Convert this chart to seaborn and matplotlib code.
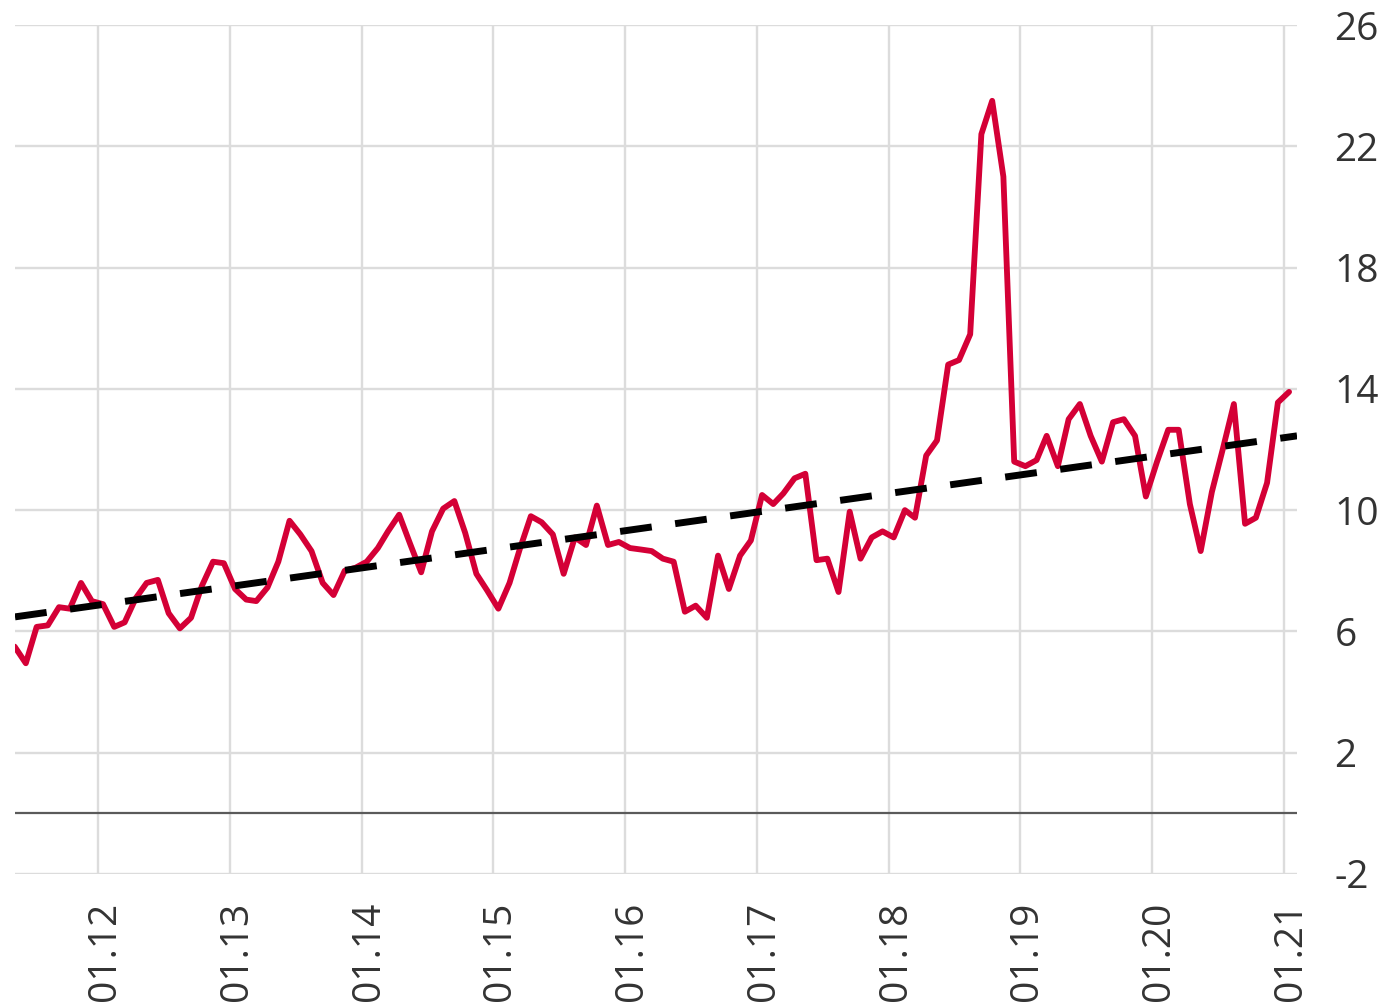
import matplotlib
matplotlib.use("Agg")
import matplotlib.pyplot as plt
import matplotlib.dates as mdates
import matplotlib.transforms as mtransforms
import numpy as np
import pandas as pd
import seaborn as sns

# ---- data ----
start_month = "2011-05-01"
values = [
    5.5, 4.95, 6.15, 6.2, 6.8, 6.75, 7.6, 7.0,                      # 2011 May-Dec
    6.9, 6.15, 6.3, 7.1, 7.6, 7.7, 6.6, 6.1, 6.45, 7.5, 8.3, 8.25,  # 2012
    7.4, 7.05, 7.0, 7.45, 8.3, 9.65, 9.2, 8.65, 7.6, 7.2, 8.0, 8.1, # 2013
    8.3, 8.75, 9.3, 9.85, 8.9, 7.95, 9.3, 10.05, 10.3, 9.25, 7.9, 7.35,  # 2014
    6.75, 7.6, 8.7, 9.8, 9.6, 9.2, 7.9, 9.1, 8.85, 10.15, 8.85, 8.95,    # 2015
    8.75, 8.7, 8.65, 8.4, 8.3, 6.65, 6.85, 6.45, 8.5, 7.4, 8.5, 9.0,     # 2016
    10.5, 10.2, 10.55, 11.05, 11.2, 8.35, 8.4, 7.3, 9.95, 8.4, 9.1, 9.3, # 2017
    9.1, 10.0, 9.75, 11.8, 12.3, 14.8, 14.95, 15.8, 22.4, 23.5, 21.0, 11.6,  # 2018
    11.45, 11.65, 12.45, 11.45, 13.0, 13.5, 12.45, 11.6, 12.9, 13.0, 12.45, 10.45,  # 2019
    11.6, 12.65, 12.65, 10.2, 8.65, 10.6, 12.0, 13.5, 9.55, 9.75, 10.9, 13.55,  # 2020
    13.9,                                                             # 2021 Jan
]
trend_dates = ["2011-05-16", "2021-02-06"]
trend_values = [6.48, 12.45]
year_ticks = ["2012-01-01", "2013-01-01", "2014-01-01", "2015-01-01", "2016-01-01",
              "2017-01-01", "2018-01-01", "2019-01-01", "2020-01-01", "2021-01-01"]
year_labels = ["01.12", "01.13", "01.14", "01.15", "01.16",
               "01.17", "01.18", "01.19", "01.20", "01.21"]
y_ticks = [-2, 2, 6, 10, 14, 18, 22, 26]

dates = pd.date_range(start_month, periods=len(values), freq="MS") + pd.Timedelta(days=14)
df = pd.DataFrame({"date": dates, "value": values})
trend_df = pd.DataFrame({"date": pd.to_datetime(trend_dates), "value": trend_values})

# ---- style ----
sns.set_theme(style="white")
plt.rcParams["font.family"] = ["Open Sans", "DejaVu Sans"]

fig = plt.figure(figsize=(13.84, 10.06), dpi=100)
ax = fig.add_axes([15 / 1384, 1 - 874 / 1006, (1297 - 15) / 1384, (874 - 25) / 1006])

sns.lineplot(data=df, x="date", y="value", ax=ax, color="#d40036", linewidth=4.2,
             zorder=3)
sns.lineplot(data=trend_df, x="date", y="value", ax=ax, color="black", linewidth=5.0,
             dashes=False, zorder=4)
ax.lines[-1].set_dashes((4.6, 3.4))
ax.lines[-1].set_dash_capstyle("butt")

ax.axhline(0, color="#5a5a5a", linewidth=1.6, zorder=2)

ax.set_xlim(pd.Timestamp(trend_dates[0]), pd.Timestamp(trend_dates[1]))
ax.set_ylim(-2, 26)

ax.set_xticks(pd.to_datetime(year_ticks))
ax.set_xticklabels(year_labels, rotation=90)
ax.set_yticks(y_ticks)
ax.set_yticklabels([str(v) for v in y_ticks])

ax.grid(True, color="#dcdcdc", linewidth=1.7, zorder=0)
ax.set_axisbelow(True)
for s in ax.spines.values():
    s.set_visible(False)

ax.yaxis.tick_right()
ax.tick_params(axis="y", length=0, pad=27, labelsize=28, labelcolor="#333333")
ax.tick_params(axis="x", length=0, pad=20, labelsize=28, labelcolor="#333333")
for lab in ax.get_yticklabels():
    lab.set_horizontalalignment("left")
offset = mtransforms.ScaledTranslation(7 / 100, 0, fig.dpi_scale_trans)
for lab in ax.get_xticklabels():
    lab.set_transform(lab.get_transform() + offset)

ax.set_xlabel("")
ax.set_ylabel("")

fig.savefig("out.png", dpi=100)
